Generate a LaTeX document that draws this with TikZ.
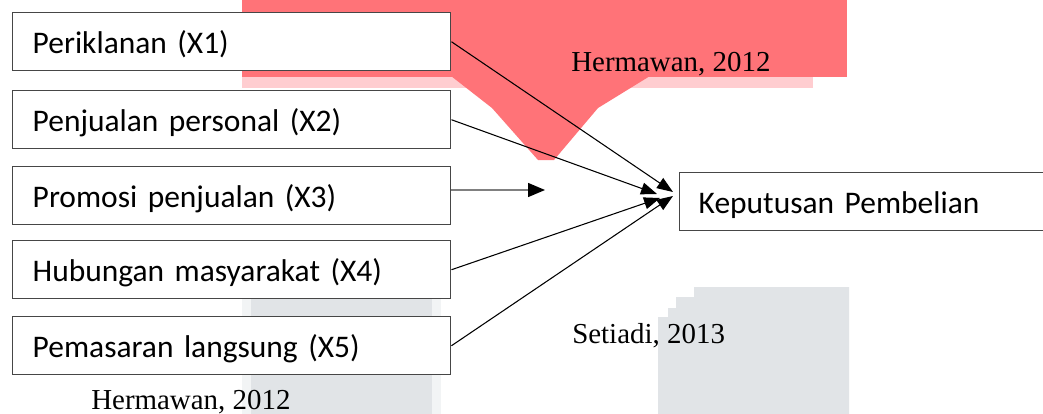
\documentclass[tikz,border=0pt]{standalone}
\usepackage{fontspec}
\setmainfont{Liberation Serif}
\newfontfamily\boxfont{Carlito}
\usetikzlibrary{arrows.meta}

\definecolor{bandred}{RGB}{255,115,120}
\definecolor{bandpink}{RGB}{255,205,208}
\definecolor{panelgrey}{RGB}{225,228,231}
\definecolor{panellight}{RGB}{242,244,245}
\definecolor{framegrey}{RGB}{70,70,70}

\tikzset{
  varbox/.style={draw=framegrey, line width=1.1pt, fill=white, rectangle,
    anchor=north west, minimum width=438*0.75pt, minimum height=58*0.75pt,
    text width=398*0.75pt, inner xsep=20*0.75pt, inner ysep=0pt, align=left,
    text height=23.25pt, text depth=5.25pt,
    font=\boxfont\fontsize{23.6pt}{28pt}\selectfont},
  cite/.style={anchor=base west, inner sep=0pt,
    font=\fontsize{21.7pt}{26pt}\selectfont},
  link/.style={draw=black, line width=0.8pt,
    -{Triangle[length=12pt, width=9pt]}},
  flat/.style={draw=gray, line width=1.1pt,
    -{Triangle[length=12.75pt, width=10.5pt, color=black]}}
}

\begin{document}
\begin{tikzpicture}[x=0.75pt, y=-0.75pt]
  \useasboundingbox (0,0) rectangle (1043,414);
  \fill[white] (0,0) rectangle (1043,414);

  % red banner behind the upper boxes
  \fill[bandpink] (242,77) rectangle (813,88);
  \fill[bandred] (242,0) rectangle (847,77);
  \fill[bandred] (451,76) -- (650,76) -- (598,108) -- (554,160)
                 -- (538,160) -- (492,108) -- cycle;

  % grey panels at the bottom
  \fill[panellight] (242,298) rectangle (441,414);
  \fill[panelgrey] (251,298) rectangle (432,414);
  \fill[panelgrey] (658,414) -- (658,317) -- (668,317) -- (668,308)
                   -- (676,308) -- (676,297) -- (694,297) -- (694,287)
                   -- (849,287) -- (849,414) -- cycle;

  % independent variables
  \node[varbox] (x1) at (12,12)  {Periklanan (X1)};
  \node[varbox] (x2) at (12,90)  {Penjualan personal (X2)};
  \node[varbox] (x3) at (12,166) {Promosi penjualan (X3)};
  \node[varbox] (x4) at (12,240) {Hubungan masyarakat (X4)};
  \node[varbox] (x5) at (12,316) {Pemasaran langsung (X5)};

  % dependent variable
  \node[varbox, minimum width=380*0.75pt, text width=350*0.75pt,
        inner xsep=19*0.75pt] (y) at (679,172) {Keputusan Pembelian};

  % citations
  \node[cite] (c1) at (571,71)  {Hermawan, 2012};
  \node[cite] (c2) at (572,343) {Setiadi, 2013};
  \node[cite] (c3) at (91,409)  {Hermawan, 2012};

  % arrow ends in front of the dependent variable
  \coordinate (e1) at (673,192);
  \coordinate (e2) at (657,194);
  \coordinate (e3) at (545,190);
  \coordinate (e4) at (660,198);
  \coordinate (e5) at (673,196);

  \draw[link] (x1.east) -- (e1);
  \draw[link] (x2.east) -- (e2);
  \draw[flat] (x3.east |- e3) -- (e3);
  \draw[link] (x4.east) -- (e4);
  \draw[link] (x5.east) -- (e5);
\end{tikzpicture}
\end{document}
